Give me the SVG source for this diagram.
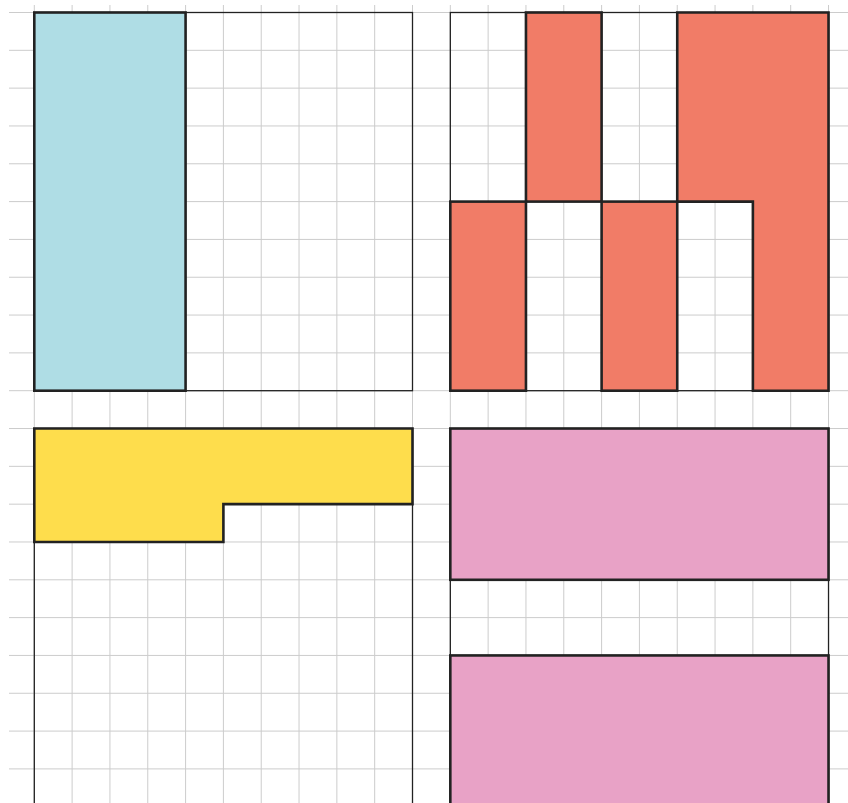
<svg xmlns="http://www.w3.org/2000/svg" width="848" height="803" viewBox="0 0 848 803">
<style>
.grid line{stroke:#cccccc;stroke-width:1}
.panel{fill:none;stroke:#222222;stroke-width:1.3}
.shape{stroke:#222222;stroke-width:2.6;stroke-linejoin:miter}
.blue{fill:#afdde5}
.red{fill:#f17c67}
.yellow{fill:#fedd4c}
.pink{fill:#e8a2c6}
</style>
<rect x="0" y="0" width="848" height="803" fill="#ffffff"/>
<g class="grid" id="grid">
<line x1="34.3" y1="5" x2="34.3" y2="803"/>
<line x1="72.12" y1="5" x2="72.12" y2="803"/>
<line x1="109.94" y1="5" x2="109.94" y2="803"/>
<line x1="147.76" y1="5" x2="147.76" y2="803"/>
<line x1="185.58" y1="5" x2="185.58" y2="803"/>
<line x1="223.4" y1="5" x2="223.4" y2="803"/>
<line x1="261.22" y1="5" x2="261.22" y2="803"/>
<line x1="299.04" y1="5" x2="299.04" y2="803"/>
<line x1="336.86" y1="5" x2="336.86" y2="803"/>
<line x1="374.68" y1="5" x2="374.68" y2="803"/>
<line x1="412.5" y1="5" x2="412.5" y2="803"/>
<line x1="450.32" y1="5" x2="450.32" y2="803"/>
<line x1="488.14" y1="5" x2="488.14" y2="803"/>
<line x1="525.96" y1="5" x2="525.96" y2="803"/>
<line x1="563.78" y1="5" x2="563.78" y2="803"/>
<line x1="601.6" y1="5" x2="601.6" y2="803"/>
<line x1="639.42" y1="5" x2="639.42" y2="803"/>
<line x1="677.24" y1="5" x2="677.24" y2="803"/>
<line x1="715.06" y1="5" x2="715.06" y2="803"/>
<line x1="752.88" y1="5" x2="752.88" y2="803"/>
<line x1="790.7" y1="5" x2="790.7" y2="803"/>
<line x1="828.52" y1="5" x2="828.52" y2="803"/>
<line x1="9" y1="12.5" x2="848" y2="12.5"/>
<line x1="9" y1="50.32" x2="848" y2="50.32"/>
<line x1="9" y1="88.14" x2="848" y2="88.14"/>
<line x1="9" y1="125.96" x2="848" y2="125.96"/>
<line x1="9" y1="163.78" x2="848" y2="163.78"/>
<line x1="9" y1="201.6" x2="848" y2="201.6"/>
<line x1="9" y1="239.42" x2="848" y2="239.42"/>
<line x1="9" y1="277.24" x2="848" y2="277.24"/>
<line x1="9" y1="315.06" x2="848" y2="315.06"/>
<line x1="9" y1="352.88" x2="848" y2="352.88"/>
<line x1="9" y1="390.7" x2="848" y2="390.7"/>
<line x1="9" y1="428.52" x2="848" y2="428.52"/>
<line x1="9" y1="466.34" x2="848" y2="466.34"/>
<line x1="9" y1="504.16" x2="848" y2="504.16"/>
<line x1="9" y1="541.98" x2="848" y2="541.98"/>
<line x1="9" y1="579.8" x2="848" y2="579.8"/>
<line x1="9" y1="617.62" x2="848" y2="617.62"/>
<line x1="9" y1="655.44" x2="848" y2="655.44"/>
<line x1="9" y1="693.26" x2="848" y2="693.26"/>
<line x1="9" y1="731.08" x2="848" y2="731.08"/>
<line x1="9" y1="768.9" x2="848" y2="768.9"/>
</g>
<g id="panel-top-left">
<rect class="panel" x="34.3" y="12.5" width="378.2" height="378.2"/>
<rect class="shape blue" x="34.3" y="12.5" width="151.28" height="378.2"/>
</g>
<g id="panel-top-right">
<rect class="panel" x="450.32" y="12.5" width="378.2" height="378.2"/>
<rect class="shape red" x="525.96" y="12.5" width="75.64" height="189.1"/>
<rect class="shape red" x="450.32" y="201.6" width="75.64" height="189.1"/>
<rect class="shape red" x="601.6" y="201.6" width="75.64" height="189.1"/>
<polygon class="shape red" points="677.24,12.5 828.52,12.5 828.52,390.7 752.88,390.7 752.88,201.6 677.24,201.6"/>
</g>
<g id="panel-bottom-left">
<rect class="panel" x="34.3" y="428.52" width="378.2" height="378.2"/>
<polygon class="shape yellow" points="34.3,428.52 412.5,428.52 412.5,504.16 223.4,504.16 223.4,541.98 34.3,541.98"/>
</g>
<g id="panel-bottom-right">
<rect class="panel" x="450.32" y="428.52" width="378.2" height="378.2"/>
<rect class="shape pink" x="450.32" y="428.52" width="378.2" height="151.28"/>
<rect class="shape pink" x="450.32" y="655.44" width="378.2" height="151.28"/>
</g>
</svg>
